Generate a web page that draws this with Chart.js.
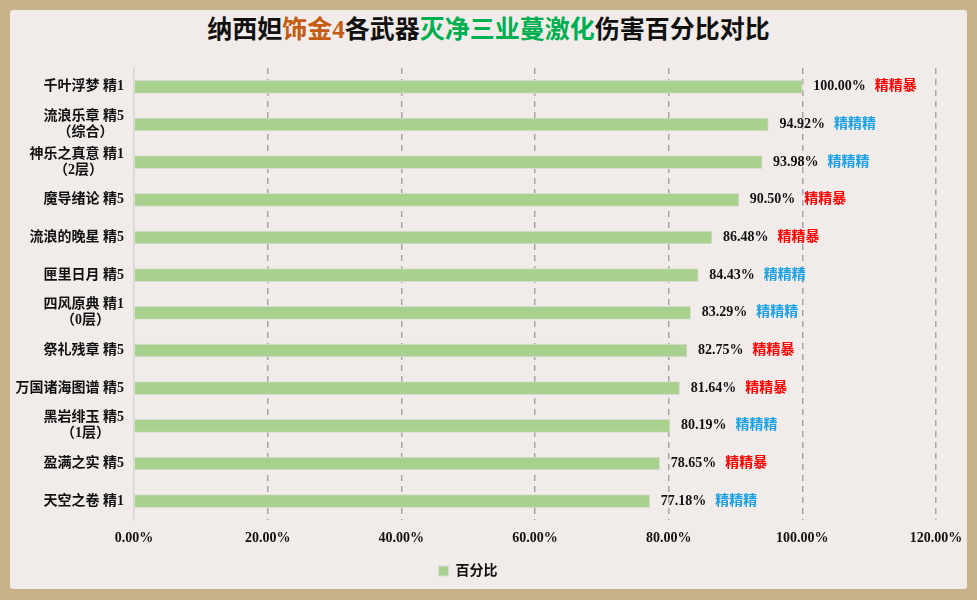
<!DOCTYPE html>
<html>
<head>
<meta charset="utf-8">
<script src="https://cdn.jsdelivr.net/npm/chart.js@4.4.1/dist/chart.umd.min.js"></script>
<style>
  body { margin: 0; background: #c9b18a; width: 977px; height: 600px; overflow: hidden; position: relative; font-family: "Liberation Serif", "Noto Sans CJK SC", serif; }
  .panel { position: absolute; left: 10px; top: 10px; width: 957px; height: 579px; background: #f1ece9; border-radius: 3px; }
  .title { position: absolute; left: 0; top: 16px; width: 977px; text-align: center; font-weight: bold; font-size: 25px; line-height: 28px; color: #111; }
  .orange { color: #c55a11; }
  .green { color: #00b050; }
  .wrap { position: absolute; left: 0; top: 0; width: 977px; height: 600px; }
</style>
</head>
<body>
<div class="panel"></div>
<div class="title">纳西妲<span class="orange">饰金4</span>各武器<span class="green">灭净三业蔓激化</span>伤害百分比对比</div>
<div class="wrap"><canvas id="chart"></canvas></div>
<script>
// weapon names (second line = note under the name)
const weapons = [
  ['千叶浮梦 精1'],
  ['流浪乐章 精5', '（综合）'],
  ['神乐之真意 精1', '（2层）'],
  ['魔导绪论 精5'],
  ['流浪的晚星 精5'],
  ['匣里日月 精5'],
  ['四风原典 精1', '（0层）'],
  ['祭礼残章 精5'],
  ['万国诸海图谱 精5'],
  ['黑岩绯玉 精5', '（1层）'],
  ['盈满之实 精5'],
  ['天空之卷 精1']
];
const percent = [100.00, 94.92, 93.98, 90.50, 86.48, 84.43, 83.29, 82.75, 81.64, 80.19, 78.65, 77.18];
const subStats = ['精精暴', '精精精', '精精精', '精精暴', '精精暴', '精精精', '精精精', '精精暴', '精精暴', '精精精', '精精暴', '精精精'];
const xTicks = [0, 20, 40, 60, 80, 100, 120];

const subColors = { '精精暴': '#ff0000', '精精精': '#1ba1e4' };
const FONT = '"Liberation Serif", "Noto Sans CJK SC", serif';

// pad the 2nd line with trailing spaces so it sits centered under the 1st (labels are right aligned)
const mctx = document.createElement('canvas').getContext('2d');
mctx.font = 'bold 14px ' + FONT;
const spaceW = mctx.measureText(' ').width;
const yLabels = weapons.map(lines => {
  if (lines.length < 2) return lines[0];
  const w1 = mctx.measureText(lines[0]).width;
  const w2 = mctx.measureText(lines[1]).width;
  const n = Math.max(0, Math.round((w1 - w2) / 2 / spaceW));
  return [lines[0], lines[1] + ' '.repeat(n)];
});

const valueLabels = {
  id: 'valueLabels',
  afterDatasetsDraw(chart) {
    const ctx = chart.ctx;
    const meta = chart.getDatasetMeta(0);
    ctx.save();
    ctx.textBaseline = 'middle';
    ctx.textAlign = 'left';
    meta.data.forEach((bar, i) => {
      const txt = percent[i].toFixed(2) + '%';
      ctx.font = 'bold 14px ' + FONT;
      ctx.fillStyle = '#111';
      const x = bar.x + 11;
      ctx.fillText(txt, x, bar.y);
      const w = ctx.measureText(txt).width;
      ctx.fillStyle = subColors[subStats[i]];
      ctx.fillText(subStats[i], x + w + 9, bar.y);
    });
    ctx.restore();
  }
};

new Chart(document.getElementById('chart'), {
  type: 'bar',
  data: {
    labels: yLabels,
    datasets: [{
      label: '百分比',
      data: percent,
      backgroundColor: '#a9d18e',
      borderColor: '#d9dcd2',
      borderWidth: 1,
      barThickness: 13
    }]
  },
  options: {
    indexAxis: 'y',
    responsive: true,
    maintainAspectRatio: false,
    animation: false,
    layout: { padding: { top: 68, left: 0, right: 41, bottom: 12 } },
    scales: {
      x: {
        type: 'linear',
        min: 0,
        max: 120,
        afterBuildTicks: scale => { scale.ticks = xTicks.map(v => ({ value: v })); },
        afterFit: scale => { scale.height = 34; },
        grid: {
          drawTicks: false,
          lineWidth: 1.5,
          color: c => (c.tick && c.tick.value === 0) ? 'rgba(0,0,0,0)' : '#a6a6a6'
        },
        border: { display: false, dash: [6, 5] },
        ticks: {
          padding: 10,
          color: '#111',
          font: { family: FONT, size: 14, weight: 'bold' },
          callback: v => v.toFixed(2) + '%'
        }
      },
      y: {
        afterFit: scale => { scale.width = 134; },
        grid: { display: false, drawTicks: false },
        border: { display: true, color: '#d6d6d6', width: 1.5 },
        ticks: {
          padding: 10,
          color: '#111',
          font: { family: FONT, size: 14, weight: 'bold', lineHeight: 1.15 }
        }
      }
    },
    plugins: {
      legend: {
        position: 'bottom',
        labels: {
          boxWidth: 10,
          boxHeight: 10,
          padding: 10,
          color: '#111',
          font: { family: FONT, size: 14, weight: 'bold' }
        }
      },
      tooltip: { enabled: false }
    }
  },
  plugins: [valueLabels]
});
</script>
</body>
</html>
